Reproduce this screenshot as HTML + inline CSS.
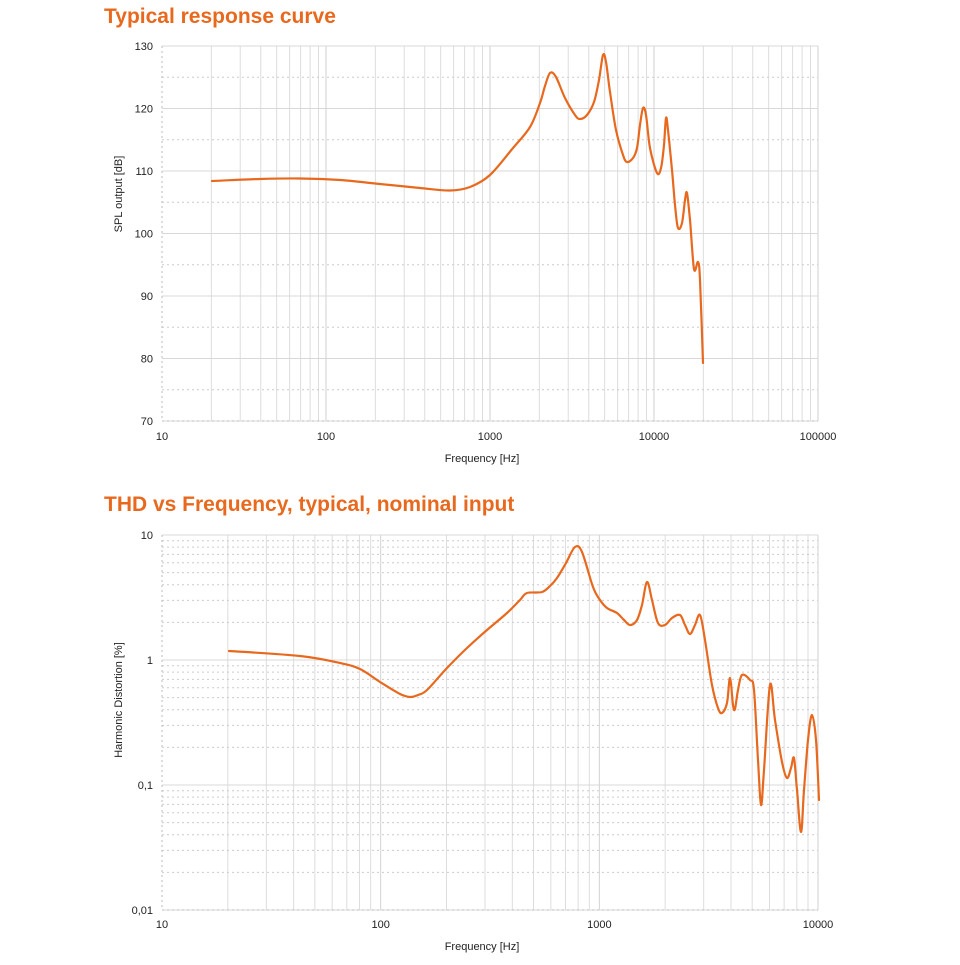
<!DOCTYPE html>
<html><head><style>
body{margin:0;background:#fff;width:960px;height:960px;overflow:hidden;font-family:"Liberation Sans",Arial,sans-serif}
</style></head><body>
<svg id="s" width="960" height="960" xmlns="http://www.w3.org/2000/svg" font-family="Liberation Sans, Arial, sans-serif">
<text x="104" y="23" font-size="21" font-weight="bold" fill="#e8691e">Typical response curve</text>
<text x="104" y="511" font-size="21" font-weight="bold" fill="#e8691e">THD vs Frequency, typical, nominal input</text>
<g id="g"></g>
<text x="482" y="462" font-size="11" text-anchor="middle" fill="#222">Frequency [Hz]</text>
<text x="482" y="950" font-size="11" text-anchor="middle" fill="#222">Frequency [Hz]</text>
<text transform="translate(122,194) rotate(-90)" font-size="11" text-anchor="middle" fill="#222">SPL output [dB]</text>
<text transform="translate(122,700) rotate(-90)" font-size="11" text-anchor="middle" fill="#222">Harmonic Distortion [%]</text>
<path id="c1" fill="none" stroke="#e8691e" stroke-width="2.2" stroke-linejoin="round" stroke-linecap="round"/>
<path id="c2" fill="none" stroke="#e8691e" stroke-width="2.2" stroke-linejoin="round" stroke-linecap="round"/>
</svg>
<script>
var g=document.getElementById('g'),h='';
function L(x1,y1,x2,y2,c,d,w){h+='<line x1="'+x1+'" y1="'+y1+'" x2="'+x2+'" y2="'+y2+'" stroke="'+c+'" stroke-width="'+(w||1)+'"'+(d?' stroke-dasharray="2,3"':'')+'/>';}
function T(x,y,t,a){h+='<text x="'+x+'" y="'+y+'" font-size="11" fill="#222" text-anchor="'+a+'">'+t+'</text>';}
var X0=162,X1=818,Y0=46,Y1=421,pd=164;
for(var d=0;d<4;d++)for(var k=2;k<=9;k++){var x=X0+pd*d+pd*Math.log10(k);L(x,Y0,x,Y1,'#ddd');}
for(var d=1;d<=4;d++){var x=X0+pd*d;L(x,Y0,x,Y1,'#d2d2d2');}
for(var v=70;v<=130;v+=5){var y=Y1-(v-70)*6.25;if(v%10==0){L(X0,y,X1,y,'#d8d8d8');T(153,y+4,v,'end');}else L(X0,y,X1,y,'#ccc',1);}
L(X0,Y0,X0,Y1,'#bbb',2);L(X0,Y1,X1,Y1,'#bbb',1.5);
['10','100','1000','10000','100000'].forEach(function(t,i){T(X0+pd*i,440,t,'middle');});
var B0=535,B1=910,pd2=218.67;
for(var d=0;d<3;d++)for(var k=2;k<=9;k++){var x=X0+pd2*d+pd2*Math.log10(k);L(x,B0,x,B1,'#ddd');}
for(var d=1;d<=3;d++){var x=X0+pd2*d;L(x,B0,x,B1,'#d2d2d2');}
for(var d=0;d<3;d++){for(var k=2;k<=9;k++){var y=B1-125*d-125*Math.log10(k);L(X0,y,X1,y,'#ccc',1);}}
var yl=['0,01','0,1','1','10'];
for(var d=0;d<4;d++){var y=B1-125*d;L(X0,y,X1,y,'#d8d8d8');T(153,y+4,yl[d],'end');}
L(X0,B0,X0,B1,'#bbb',2);L(X0,B1,X1,B1,'#bbb',1.5);
['10','100','1000','10000'].forEach(function(t,i){T(X0+pd2*i,928,t,'middle');});
g.innerHTML=h;
function cr(s){var a=s.trim().split(/\s+/).map(function(p){return p.split(',').map(Number);});
var d='M'+a[0][0]+','+a[0][1];
for(var i=0;i<a.length-1;i++){var p0=a[i-1]||a[i],p1=a[i],p2=a[i+1],p3=a[i+2]||p2;
var t=0.5/3;
d+=' C'+(p1[0]+(p2[0]-p0[0])*t).toFixed(1)+','+(p1[1]+(p2[1]-p0[1])*t).toFixed(1)+' '+(p2[0]-(p3[0]-p1[0])*t).toFixed(1)+','+(p2[1]-(p3[1]-p1[1])*t).toFixed(1)+' '+p2[0]+','+p2[1];}
return d;}
document.getElementById('c1').setAttribute('d',cr("212,181 260,179 300,178.5 340,180 380,184 420,188 450,190.5 470,187 490,175 513,148 530,127 540,103 545,86 550,73 556,77 565,98 575,115 580,119 587,115 594,102 599,80 603,55 606,62 610,92 616,130 623,155 627,162 633,158 637,148 640,125 643,108 646,115 650,148 657,173 661,168 664,145 666,118 668,130 672,170 675,205 678,228 682,223 685,200 687,193 690,220 694,269 698,262 700,280 703,363"));
document.getElementById('c2').setAttribute('d',cr("229,651 300,656 340,663 360,669 380,682 400,694 410,697 418,695 427,690 447,668 467,648 487,630 507,613 520,600 527,593 542,592 550,586 557,578 566,563 575,547 582,552 593,587 600,600 607,608 617,613 624,620 630,625 637,620 642,605 647,582 652,600 658,623 665,625 672,618 680,615 685,625 690,634 695,625 700,615 705,640 712,685 718,708 722,713 727,703 730,678 733,705 735,709 738,690 742,675 750,680 754,690 758,760 761,805 764,770 770,685 775,720 782,762 787,778 791,768 794,758 797,790 801,832 804,790 808,740 812,715 816,740 819,800"));
</script>
</body></html>
